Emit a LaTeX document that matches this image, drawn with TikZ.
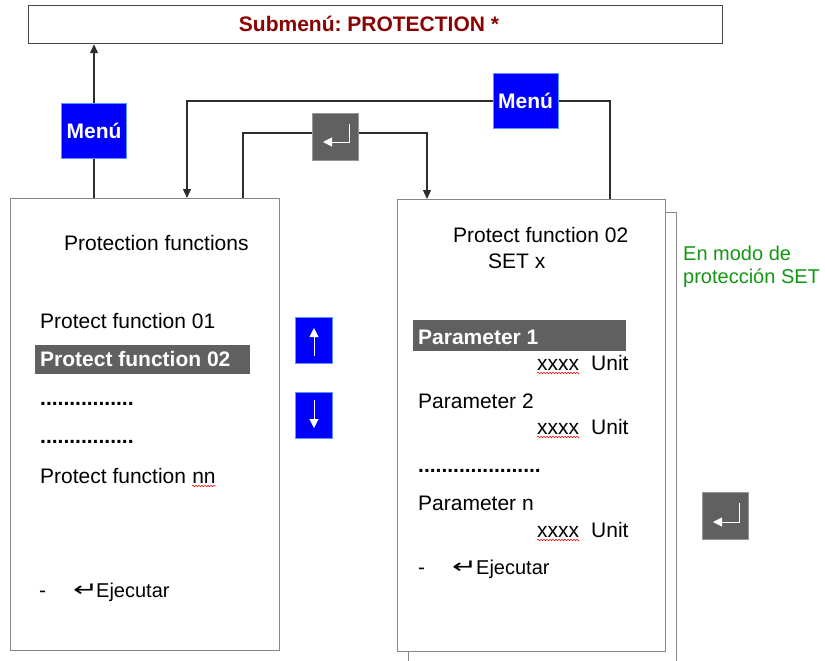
\documentclass[tikz,border=0pt]{standalone}
\usepackage{fontspec}
\setmainfont{Liberation Sans}
\newfontfamily\arrowfont[FakeStretch=1.5]{DejaVu Sans}
\usetikzlibrary{arrows.meta,decorations.pathmorphing}
\definecolor{keyblue}{RGB}{0,0,255}
\definecolor{keyedge}{RGB}{90,150,255}
\definecolor{keygray}{RGB}{96,96,96}
\definecolor{keygrayedge}{RGB}{150,150,150}
\definecolor{hlgray}{RGB}{96,96,96}
\definecolor{panelgray}{RGB}{135,135,135}
\definecolor{titleedge}{RGB}{70,70,70}
\definecolor{titlered}{RGB}{139,0,0}
\definecolor{notegreen}{RGB}{20,150,20}
\definecolor{connc}{RGB}{45,45,45}
\frenchspacing
\begin{document}
\begin{tikzpicture}[x=1pt,y=-1pt,
  panel/.style={draw=panelgray,line width=1.2pt,fill=white,anchor=north west,inner sep=0pt},
  txt/.style={anchor=base west,inner sep=0pt,font=\fontsize{21}{25}\selectfont},
  btxt/.style={anchor=base west,inner sep=0pt,font=\fontsize{21}{25}\selectfont\bfseries,text=white},
  note/.style={anchor=base west,inner sep=0pt,font=\fontsize{20}{24}\selectfont,text=notegreen},
  hl/.style={fill=hlgray,anchor=north west,inner sep=0pt},
  menukey/.style={fill=keyblue,draw=keyedge,line width=1pt,text=white,font=\fontsize{21}{25}\selectfont\bfseries,minimum width=65pt,minimum height=55pt,inner sep=0pt},
  arrowkey/.style={fill=keyblue,draw=keyedge,line width=1pt,minimum width=37pt,minimum height=46pt,inner sep=0pt},
  enterkey/.style={fill=keygray,draw=keygrayedge,line width=1pt,minimum width=46pt,minimum height=47pt,inner sep=0pt},
  conn/.style={draw=connc,line width=1.2pt},
  tip/.style={-{Triangle[width=8pt,length=9pt]}},
  glyph/.style={draw=white,line width=1pt},
  glyphtip/.style={-{Triangle[width=9pt,length=9pt]}},
  squiggle/.style={draw=red,line width=0.5pt,decorate,decoration={snake,amplitude=0.8pt,segment length=3pt}},
  enterchar/.style={anchor=base west,inner sep=0pt,font=\arrowfont\fontsize{20}{24}\selectfont},
]
\useasboundingbox (0,0) rectangle (825,661);

% title bar
\node[draw=titleedge,line width=1.2pt,fill=white,anchor=north west,inner sep=0pt,
      minimum width=694pt,minimum height=38pt] (top) at (28,5) {};
\node[anchor=base,inner sep=0pt,font=\fontsize{21}{25}\selectfont\bfseries,text=titlered]
      (title) at (369,32) {Submenú: PROTECTION *};

% left panel: list of protection functions
\node[panel,minimum width=269pt,minimum height=452pt] (lp) at (10,198) {};
\node[txt] (lhead) at (64,250) {Protection functions};
\node[txt] (pf1) at (40,328) {Protect function 01};
\node[hl,minimum width=215pt,minimum height=29pt] (lhl) at (35,345) {};
\node[btxt] (pf2) at (40,366) {Protect function 02};
\node[txt] (ldots1) at (40,405) {\bfseries................};
\node[txt] (ldots2) at (40,443) {\bfseries................};
\node[txt] (pfn) at (40,483) {Protect function};
\node[txt] (pfnn) at ([xshift=5.8pt]pfn.base east) {nn};
\draw[squiggle] ([yshift=-3pt]pfnn.base west) -- ([yshift=-3pt]pfnn.base east);
\node[txt] (ldash) at (39,597) {-};
\node[enterchar] (lenter) at (73,596) {↵};
\node[txt,font=\fontsize{20}{24}\selectfont] (lexec) at (96,597) {Ejecutar};

% scroll keys
\node[arrowkey] (up) at (314,340.5) {};
\draw[glyph,glyphtip] ([yshift=-15.5pt]up.center) -- ([yshift=12.5pt]up.center);
\node[arrowkey] (down) at (314,415) {};
\draw[glyph,glyphtip] ([yshift=15pt]down.center) -- ([yshift=-13pt]down.center);

% right panel: parameters of the selected function (with a sheet behind it)
\node[panel,minimum width=268pt,minimum height=460pt] (rpback) at (408,212) {};
\node[panel,minimum width=268pt,minimum height=452pt] (rp) at (397,199) {};
\node[txt] (rhead) at (453,242) {Protect function 02};
\node[txt] (rset) at (488,268) {SET x};
\node[hl,minimum width=213pt,minimum height=31pt] (rhl) at (413,320) {};
\node[btxt] (par1) at (418,344) {Parameter 1};
\node[txt] (x1) at (537,370) {xxxx};
\node[txt] (u1) at (591,370) {Unit};
\node[txt] (par2) at (418,408) {Parameter 2};
\node[txt] (x2) at (537,434) {xxxx};
\node[txt] (u2) at (591,434) {Unit};
\node[txt] (rdots) at (418,472) {\bfseries.....................};
\node[txt] (parn) at (418,510) {Parameter n};
\node[txt] (x3) at (537,537) {xxxx};
\node[txt] (u3) at (591,537) {Unit};
\foreach \n in {x1,x2,x3}
  \draw[squiggle] ([yshift=-3pt]\n.base west) -- ([yshift=-3pt]\n.base east);
\node[txt] (rdash) at (418,574) {-};
\node[enterchar] (renter) at (452,573) {↵};
\node[txt,font=\fontsize{20}{24}\selectfont] (rexec) at (476,574) {Ejecutar};

% note on the mode
\node[note] (note1) at (683,260) {En modo de};
\node[note] (note2) at (683,283) {protección SET};

% stand-alone enter key
\node[enterkey] (e2) at (725,516) {};
\draw[glyph,glyphtip] ([shift={(14,-13)}]e2.center) -- ([shift={(14,6)}]e2.center) -- ([shift={(-12,6)}]e2.center);

% keys on the connectors
\node[menukey] (m1) at (94,130.5) {Menú};
\node[menukey] (m2) at (525.5,101) {Menú};
\node[enterkey] (e1) at (335,137) {};
\draw[glyph,glyphtip] ([shift={(14,-13)}]e1.center) -- ([shift={(14,5)}]e1.center) -- ([shift={(-12,5)}]e1.center);

% connectors
\draw[conn] (m1.south |- lp.north) -- (m1.south);
\draw[conn,tip] (m1.north) -- (m1.north |- top.south);

\coordinate (m2r) at (610,101);
\coordinate (m2l) at (187,101);
\draw[conn] (m2r |- rp.north) -- (m2r) -- (m2.east);
\draw[conn,tip] (m2.west) -- (m2l) -- (m2l |- lp.north);

\coordinate (el) at (243,133);
\coordinate (er) at (427,133);
\draw[conn] (el |- lp.north) -- (el) -- (e1.west |- el);
\draw[conn,tip] (e1.east |- er) -- (er) -- (er |- rp.north);
\end{tikzpicture}
\end{document}
